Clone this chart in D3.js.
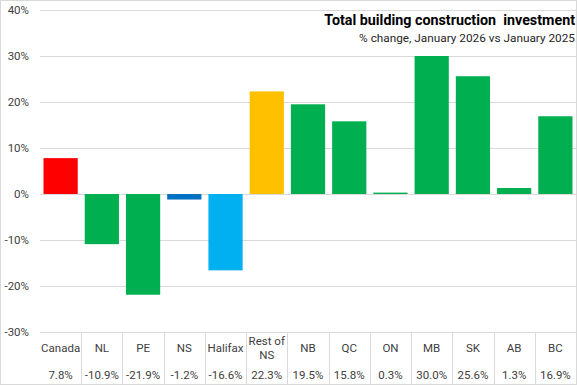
<!DOCTYPE html>
<html>
<head>
<meta charset="utf-8">
<script src="https://cdn.jsdelivr.net/npm/d3@7"></script>
<style>
  body { margin: 0; background: #fff; }
  text { font-family: Roboto, "Liberation Sans", sans-serif; fill: #404040; }
</style>
</head>
<body>
<svg class="chart" width="577" height="385"></svg>
<script>
// data
var regions = ["Canada", "NL", "PE", "NS", "Halifax", "Rest of NS", "NB", "QC", "ON", "MB", "SK", "AB", "BC"];
var pctChange = [7.8, -10.9, -21.9, -1.2, -16.6, 22.3, 19.5, 15.8, 0.3, 30.0, 25.6, 1.3, 16.9];
var barColors = ["#ff0000", "#00b050", "#00b050", "#0070c0", "#00b0f0", "#ffc000", "#00b050", "#00b050", "#00b050", "#00b050", "#00b050", "#00b050", "#00b050"];
var yTicks = [-30, -20, -10, 0, 10, 20, 30, 40];

var svg = d3.select(".chart"),
    W = +svg.attr("width"),
    H = +svg.attr("height");

var left = 40, right = 576;

var x = d3.scaleBand().domain(regions).range([left, right]).padding(0);
var xb = d3.scaleBand().domain(regions).range([left, right]).paddingInner(0.17).paddingOuter(0.085);
var y = d3.scaleLinear().domain([-30, 40]).range([332, 10]);

// outer border
svg.append("rect")
    .attr("x", 0.5).attr("y", 0.5)
    .attr("width", W - 1).attr("height", H - 1)
    .attr("fill", "none")
    .attr("stroke", "#d9d9d9");

// gridlines
svg.append("g")
  .selectAll("line")
  .data(yTicks)
  .enter().append("line")
    .attr("x1", left).attr("x2", right)
    .attr("y1", function(d) { return Math.round(y(d)) + 0.5; })
    .attr("y2", function(d) { return Math.round(y(d)) + 0.5; })
    .attr("stroke", "#d9d9d9");

// y axis labels
svg.append("g")
  .selectAll("text")
  .data(yTicks)
  .enter().append("text")
    .attr("x", 29)
    .attr("y", function(d) { return y(d); })
    .attr("dy", "0.35em")
    .attr("text-anchor", "end")
    .attr("font-size", 11.5)
    .text(function(d) { return d + "%"; });

// bars
svg.append("g")
  .selectAll("rect")
  .data(regions)
  .enter().append("rect")
    .attr("x", function(d) { return xb(d); })
    .attr("width", xb.bandwidth())
    .attr("y", function(d, i) { return y(Math.max(0, pctChange[i])); })
    .attr("height", function(d, i) { return Math.abs(y(pctChange[i]) - y(0)); })
    .attr("fill", function(d, i) { return barColors[i]; });

// data table separators
svg.append("g")
  .selectAll("line")
  .data(regions.slice(1))
  .enter().append("line")
    .attr("x1", function(d) { return Math.round(x(d)) + 0.5; })
    .attr("x2", function(d) { return Math.round(x(d)) + 0.5; })
    .attr("y1", 332).attr("y2", H)
    .attr("stroke", "#d9d9d9");

// category labels
var cats = svg.append("g")
  .selectAll("text")
  .data(regions)
  .enter().append("text")
    .attr("text-anchor", "middle")
    .attr("font-size", 11.5)
    .attr("x", function(d) { return x(d) + x.bandwidth() / 2; })
    .attr("y", function(d) { return d === "Rest of NS" ? 345 : 352; });

cats.each(function(d) {
  var t = d3.select(this);
  if (d === "Rest of NS") {
    t.append("tspan").attr("x", x(d) + x.bandwidth() / 2).text("Rest of");
    t.append("tspan").attr("x", x(d) + x.bandwidth() / 2).attr("dy", 14).text("NS");
  } else {
    t.text(d);
  }
});

// value row
svg.append("g")
  .selectAll("text")
  .data(regions)
  .enter().append("text")
    .attr("text-anchor", "middle")
    .attr("font-size", 11.5)
    .attr("x", function(d) { return x(d) + x.bandwidth() / 2; })
    .attr("y", 379)
    .text(function(d, i) { return pctChange[i].toFixed(1) + "%"; });

// title
svg.append("text")
    .attr("x", 575).attr("y", 25)
    .attr("text-anchor", "end")
    .attr("font-size", 14.3)
    .attr("font-weight", "bold")
    .style("fill", "#000")
    .style("white-space", "pre")
    .text("Total building construction  investment");

svg.append("text")
    .attr("x", 575).attr("y", 42)
    .attr("text-anchor", "end")
    .attr("font-size", 11.8)
    .style("fill", "#262626")
    .text("% change, January 2026 vs January 2025");
</script>
</body>
</html>
